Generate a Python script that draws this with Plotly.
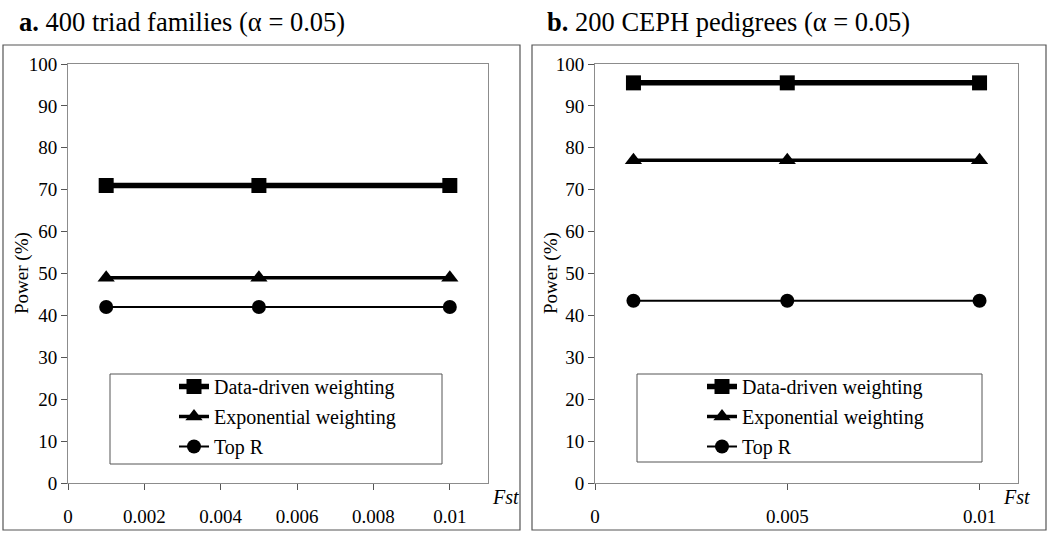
import plotly.graph_objects as go

fst = [0.001, 0.005, 0.01]
series_names = ["Data-driven weighting", "Exponential weighting", "Top R"]
triad_power = [71, 49, 42]
ceph_power = [95.5, 77, 43.5]
left_xticks = [0, 0.002, 0.004, 0.006, 0.008, 0.01]
right_xticks = [0, 0.005, 0.01]
yticks = list(range(0, 101, 10))

styles = [
    dict(width=5.5, symbol="square", size=15),
    dict(width=3.5, symbol="triangle-up", size=15),
    dict(width=2, symbol="circle", size=14),
]

FONT = "Liberation Serif, Times New Roman, serif"
fig = go.Figure()

for i, name in enumerate(series_names):
    st = styles[i]
    fig.add_trace(go.Scatter(
        x=fst, y=[triad_power[i]] * len(fst), name=name, mode="lines+markers",
        line=dict(color="black", width=st["width"]),
        marker=dict(symbol=st["symbol"], size=st["size"], color="black"),
        xaxis="x", yaxis="y", legend="legend", legendgroup="a%d" % i,
    ))
for i, name in enumerate(series_names):
    st = styles[i]
    fig.add_trace(go.Scatter(
        x=fst, y=[ceph_power[i]] * len(fst), name=name, mode="lines+markers",
        line=dict(color="black", width=st["width"]),
        marker=dict(symbol=st["symbol"], size=st["size"], color="black"),
        xaxis="x2", yaxis="y2", legend="legend2", legendgroup="b%d" % i,
    ))

W, H = 1050, 537
def px(x): return x / W
def py(y): return 1 - y / H

axis_common = dict(showgrid=False, zeroline=False, showline=True, linecolor="#8c8c8c",
                   linewidth=1, mirror=True, ticks="outside", ticklen=6, tickcolor="#555555",
                   automargin=False,
                   tickfont=dict(family=FONT, size=19, color="black"))

legend_common = dict(xanchor="left", yanchor="top", bgcolor="rgba(0,0,0,0)", borderwidth=0,
                     tracegroupgap=1, font=dict(family=FONT, size=20, color="black"))

fig.update_layout(
    width=W, height=H, margin=dict(l=0, r=0, t=0, b=0, autoexpand=False),
    paper_bgcolor="white", plot_bgcolor="white",
    font=dict(family=FONT, size=19, color="black"),
    xaxis=dict(domain=[px(68), px(488)], range=[0, 0.011], tickvals=left_xticks,
               ticktext=["0", "0.002", "0.004", "0.006", "0.008", "0.01"],
               ticklabelstandoff=10, anchor="y", **axis_common),
    yaxis=dict(domain=[py(483), py(64)], range=[0, 100], tickvals=yticks,
               anchor="x", **axis_common),
    xaxis2=dict(domain=[px(595), px(1018)], range=[0, 0.011], tickvals=right_xticks,
                ticktext=["0", "0.005", "0.01"], ticklabelstandoff=10, anchor="y2", **axis_common),
    yaxis2=dict(domain=[py(483), py(64)], range=[0, 100], tickvals=yticks,
                anchor="x2", **axis_common),
    legend=dict(x=px(174), y=py(367), **legend_common),
    legend2=dict(x=px(702), y=py(367), **legend_common),
    showlegend=True,
)

shapes = [
    dict(type="rect", xref="paper", yref="paper", x0=px(3), x1=px(520), y0=py(530), y1=py(45),
         line=dict(color="#555555", width=1.2)),
    dict(type="rect", xref="paper", yref="paper", x0=px(532), x1=px(1046), y0=py(530), y1=py(45),
         line=dict(color="#555555", width=1.2)),
    dict(type="rect", xref="paper", yref="paper", x0=px(110), x1=px(442), y0=py(464), y1=py(374),
         line=dict(color="#555555", width=1)),
    dict(type="rect", xref="paper", yref="paper", x0=px(637), x1=px(982), y0=py(462), y1=py(374),
         line=dict(color="#555555", width=1)),
]

annotations = [
    dict(text="<b>a.</b> 400 triad families (α = 0.05)", x=px(17), y=py(22), xref="paper", yref="paper",
         xanchor="left", yanchor="middle", showarrow=False, font=dict(family=FONT, size=26.5)),
    dict(text="<b>b.</b> 200 CEPH pedigrees (α = 0.05)", x=px(545), y=py(22), xref="paper", yref="paper",
         xanchor="left", yanchor="middle", showarrow=False, font=dict(family=FONT, size=26.5)),
    dict(text="Power (%)", x=px(22), y=py(273), xref="paper", yref="paper", textangle=-90,
         xanchor="center", yanchor="middle",
         showarrow=False, font=dict(family=FONT, size=19)),
    dict(text="Power (%)", x=px(551), y=py(273), xref="paper", yref="paper", textangle=-90,
         xanchor="center", yanchor="middle",
         showarrow=False, font=dict(family=FONT, size=19)),
    dict(text="<i>Fst</i>", x=px(505), y=py(510), xref="paper", yref="paper",
         showarrow=False, font=dict(family=FONT, size=20)),
    dict(text="<i>Fst</i>", x=px(1032), y=py(510), xref="paper", yref="paper",
         showarrow=False, font=dict(family=FONT, size=20)),
]
fig.update_layout(shapes=shapes, annotations=annotations)

fig.write_html("out.html", config={"displayModeBar": False},
               post_script="document.body.style.margin='0';")
